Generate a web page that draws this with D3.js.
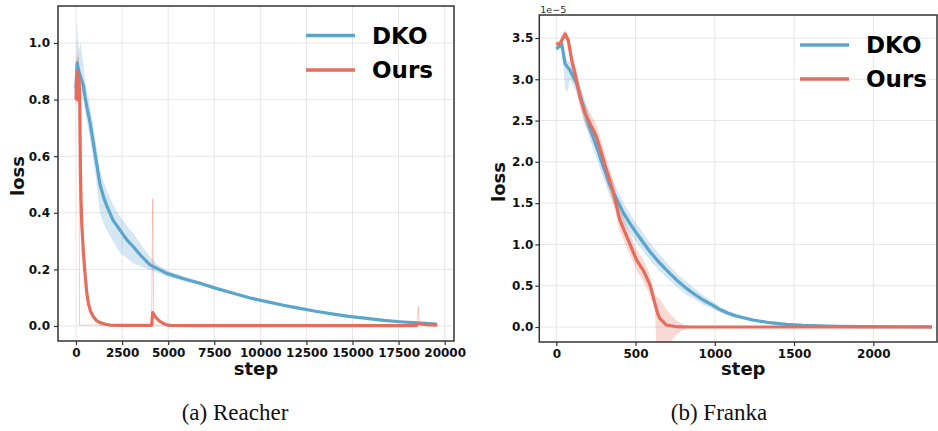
<!DOCTYPE html>
<html>
<head>
<meta charset="utf-8">
<script src="https://cdn.jsdelivr.net/npm/d3@7"></script>
<style>
  body { margin: 0; background: #fff; }
  svg { display: block; }
</style>
</head>
<body>
<svg id="fig" width="938" height="431"></svg>
<script>
var BLUE = "#5ba4cc";
var RED = "#e66c5c";
var GRID_COLOR = "#e6e6e6";
var SPINE_COLOR = "#333";
var TICK_FONT = "bold 12px 'DejaVu Sans'";

var seriesNames = ["DKO", "Ours"];

// ---- (a) Reacher ----
var reacherXTicks = [0, 2500, 5000, 7500, 10000, 12500, 15000, 17500, 20000];
var reacherYTicks = [0, 0.2, 0.4, 0.6, 0.8, 1.0];

var reacherDkoStep = [0, 60, 150, 250, 400, 488, 600, 760, 1030, 1300, 1500, 1665, 2000, 2387, 2750, 3110, 3500, 4014, 4500, 4920, 5800, 6725, 7600, 8533, 9400, 10340, 11200, 12150, 13000, 13960, 14800, 15770, 16700, 17575, 18500, 19565];
var reacherDkoMean = [0.84, 0.93, 0.90, 0.88, 0.85, 0.81, 0.77, 0.72, 0.61, 0.50, 0.455, 0.425, 0.375, 0.339, 0.305, 0.28, 0.25, 0.216, 0.20, 0.186, 0.168, 0.151, 0.133, 0.116, 0.10, 0.086, 0.074, 0.0625, 0.052, 0.042, 0.034, 0.027, 0.020, 0.015, 0.011, 0.007];
var reacherDkoLo = [0.80, 0.85, 0.84, 0.84, 0.80, 0.76, 0.72, 0.66, 0.55, 0.40, 0.36, 0.34, 0.30, 0.258, 0.24, 0.222, 0.21, 0.198, 0.186, 0.176, 0.160, 0.145, 0.128, 0.112, 0.097, 0.083, 0.071, 0.060, 0.050, 0.040, 0.032, 0.025, 0.018, 0.013, 0.009, 0.005];
var reacherDkoHi = [0.90, 1.08, 0.97, 1.00, 0.92, 0.87, 0.83, 0.78, 0.67, 0.55, 0.51, 0.48, 0.43, 0.387, 0.355, 0.328, 0.29, 0.245, 0.214, 0.197, 0.177, 0.157, 0.138, 0.120, 0.104, 0.089, 0.077, 0.065, 0.054, 0.044, 0.036, 0.029, 0.022, 0.017, 0.013, 0.009];

var reacherOursStep = [0, 30, 60, 100, 150, 200, 217, 240, 270, 310, 400, 488, 580, 670, 800, 940, 1100, 1300, 1600, 1844, 2500, 4100, 4160, 4250, 4377, 4550, 4740, 4900, 5100, 6000, 18450, 18570, 18700, 19000, 19600];
var reacherOursMean = [0.80, 0.88, 0.80, 0.90, 0.88, 0.82, 0.70, 0.55, 0.45, 0.364, 0.26, 0.186, 0.12, 0.08, 0.05, 0.033, 0.02, 0.012, 0.006, 0.003, 0.002, 0.002, 0.047, 0.038, 0.027, 0.016, 0.009, 0.005, 0.002, 0.001, 0.001, 0.009, 0.007, 0.005, 0.003];
var reacherOursLo = [0.79, 0.79, 0.78, 0.83, 0.80, 0.78, 0.68, 0.54, 0.44, 0.36, 0.255, 0.182, 0.117, 0.078, 0.049, 0.032, 0.019, 0.011, 0.005, 0.002, 0.001, 0.001, 0.040, 0.034, 0.024, 0.014, 0.007, 0.004, 0.001, 0.0, 0.0, 0.007, 0.005, 0.003, 0.001];
var reacherOursHi = [0.84, 0.97, 0.86, 1.00, 0.95, 0.86, 0.72, 0.56, 0.46, 0.368, 0.265, 0.19, 0.123, 0.082, 0.051, 0.034, 0.021, 0.013, 0.007, 0.004, 0.003, 0.003, 0.054, 0.042, 0.030, 0.018, 0.011, 0.006, 0.003, 0.002, 0.002, 0.011, 0.009, 0.007, 0.005];

// one seed of "Ours" that stands out as thin pink strokes
var reacherSeedStep = [0, 100, 170, 180, 190, 400, 1000, 1300, 4100, 4160, 4220, 18500, 18570, 18640, 19600];
var reacherSeedValue = [0.80, 0.95, 0.90, 0.32, 0.003, 0.003, 0.003, 0.002, 0.002, 0.45, 0.003, 0.002, 0.067, 0.002, 0.002];

// ---- (b) Franka (values x 1e-5) ----
var frankaXTicks = [0, 500, 1000, 1500, 2000];
var frankaYTicks = [0, 0.5, 1.0, 1.5, 2.0, 2.5, 3.0, 3.5];

var frankaDkoStep = [0, 20, 34, 55, 70, 86, 128, 171, 212, 254, 297, 338, 380, 425, 466, 507, 550, 591, 650, 716, 770, 821, 870, 926, 980, 1030, 1080, 1136, 1240, 1346, 1450, 1557, 1660, 1767, 1950, 2150, 2370];
var frankaDkoMean = [3.37, 3.40, 3.43, 3.19, 3.15, 3.11, 2.95, 2.667, 2.405, 2.183, 1.94, 1.72, 1.55, 1.376, 1.25, 1.134, 1.02, 0.912, 0.78, 0.65, 0.55, 0.468, 0.40, 0.327, 0.27, 0.214, 0.17, 0.133, 0.085, 0.052, 0.032, 0.02, 0.013, 0.008, 0.005, 0.003, 0.002];
var frankaDkoLo = [3.34, 3.36, 3.38, 2.90, 2.84, 3.00, 2.84, 2.53, 2.27, 2.05, 1.80, 1.58, 1.42, 1.25, 1.13, 1.02, 0.91, 0.81, 0.68, 0.56, 0.47, 0.39, 0.335, 0.27, 0.225, 0.178, 0.14, 0.108, 0.068, 0.040, 0.024, 0.014, 0.008, 0.005, 0.003, 0.002, 0.001];
var frankaDkoHi = [3.40, 3.44, 3.47, 3.30, 3.22, 3.21, 3.06, 2.80, 2.54, 2.32, 2.08, 1.86, 1.68, 1.50, 1.37, 1.25, 1.13, 1.02, 0.88, 0.74, 0.63, 0.55, 0.47, 0.385, 0.315, 0.25, 0.20, 0.158, 0.102, 0.064, 0.040, 0.026, 0.018, 0.011, 0.007, 0.004, 0.003];

var frankaOursStep = [0, 23, 55, 76, 97, 118, 149, 181, 212, 244, 254, 286, 317, 349, 370, 400, 463, 507, 548, 591, 622, 640, 653, 695, 758, 800, 850, 1000, 1500, 2000, 2370];
var frankaOursMean = [3.43, 3.43, 3.55, 3.47, 3.23, 3.07, 2.79, 2.587, 2.466, 2.345, 2.30, 2.10, 1.90, 1.70, 1.55, 1.30, 1.01, 0.81, 0.69, 0.51, 0.287, 0.16, 0.105, 0.024, 0.003, 0.001, 0.0, 0.0, 0.0, 0.0, 0.0];
var frankaOursLo = [3.41, 3.40, 3.50, 3.40, 3.12, 2.95, 2.66, 2.45, 2.33, 2.21, 2.16, 1.96, 1.76, 1.56, 1.41, 1.16, 0.88, 0.68, 0.56, 0.38, 0.20, -0.60, -0.60, -0.24, -0.09, -0.03, 0.0, 0.0, 0.0, 0.0, 0.0];
var frankaOursHi = [3.45, 3.46, 3.60, 3.54, 3.34, 3.19, 2.92, 2.72, 2.60, 2.48, 2.44, 2.24, 2.04, 1.84, 1.69, 1.44, 1.14, 0.94, 0.82, 0.64, 0.40, 0.35, 0.34, 0.21, 0.08, 0.03, 0.005, 0.0, 0.0, 0.0, 0.0];

function zipRows(step, mean, lo, hi) {
    return step.map(function (s, i) {
        return { step: s, mean: mean[i], lo: lo ? lo[i] : null, hi: hi ? hi[i] : null };
    });
}

//draw one subplot
function drawPanel(p) {
    var svg = d3.select("#fig");
    var g = svg.append("g").attr("class", p.id);

    var x = d3.scaleLinear().domain(p.xAnchor).range(p.xPix);
    var y = d3.scaleLinear().domain(p.yAnchor).range(p.yPix);

    //clip to the axes box
    svg.append("clipPath")
        .attr("id", p.id + "-clip")
        .append("rect")
        .attr("x", p.box.left)
        .attr("y", p.box.top)
        .attr("width", p.box.right - p.box.left)
        .attr("height", p.box.bottom - p.box.top);

    //grid
    var grid = g.append("g").attr("class", "grid");
    grid.selectAll("line.gx")
        .data(p.xTicks)
        .join("line")
        .attr("class", "gx")
        .attr("x1", function (d) { return x(d); })
        .attr("x2", function (d) { return x(d); })
        .attr("y1", p.box.top)
        .attr("y2", p.box.bottom)
        .style("stroke", GRID_COLOR)
        .style("stroke-width", 1);
    grid.selectAll("line.gy")
        .data(p.yTicks)
        .join("line")
        .attr("class", "gy")
        .attr("x1", p.box.left)
        .attr("x2", p.box.right)
        .attr("y1", function (d) { return y(d); })
        .attr("y2", function (d) { return y(d); })
        .style("stroke", GRID_COLOR)
        .style("stroke-width", 1);

    var plot = g.append("g").attr("clip-path", "url(#" + p.id + "-clip)");
    var area = d3.area()
        .x(function (d) { return x(d.step); })
        .y0(function (d) { return y(d.lo); })
        .y1(function (d) { return y(d.hi); });
    var line = d3.line()
        .x(function (d) { return x(d.step); })
        .y(function (d) { return y(d.mean); });

    p.series.forEach(function (s) {
        plot.append("path")
            .attr("d", area(s.rows))
            .style("fill", s.color)
            .style("fill-opacity", 0.26)
            .style("stroke", "none");
    });
    p.series.forEach(function (s) {
        if (s.seed) {
            plot.append("path")
                .attr("d", line(s.seed))
                .style("fill", "none")
                .style("stroke", s.color)
                .style("stroke-opacity", 0.35)
                .style("stroke-width", 1);
        }
    });
    p.series.forEach(function (s) {
        plot.append("path")
            .attr("d", line(s.rows))
            .style("fill", "none")
            .style("stroke", s.color)
            .style("stroke-width", 3.2)
            .style("stroke-linejoin", "round");
    });

    //axes
    var xAxis = g.append("g")
        .attr("transform", "translate(0," + p.box.bottom + ")")
        .call(d3.axisBottom(x).tickValues(p.xTicks).tickFormat(d3.format("d"))
            .tickSize(4).tickPadding(3));
    var yAxis = g.append("g")
        .attr("transform", "translate(" + p.box.left + ",0)")
        .call(d3.axisLeft(y).tickValues(p.yTicks).tickFormat(d3.format(".1f"))
            .tickSize(4).tickPadding(p.yPad));
    [xAxis, yAxis].forEach(function (a) {
        a.select(".domain").remove();
        a.selectAll(".tick line").style("stroke", SPINE_COLOR).style("stroke-width", 1.2);
        a.selectAll(".tick text").style("font", TICK_FONT).style("fill", "#111");
    });

    //box
    g.append("rect")
        .attr("x", p.box.left)
        .attr("y", p.box.top)
        .attr("width", p.box.right - p.box.left)
        .attr("height", p.box.bottom - p.box.top)
        .style("fill", "none")
        .style("stroke", SPINE_COLOR)
        .style("stroke-width", 1.5);

    //axis labels
    g.append("text")
        .attr("x", p.xLabel[0])
        .attr("y", p.xLabel[1])
        .style("text-anchor", "middle")
        .style("font", "bold 18px 'DejaVu Sans'")
        .style("fill", "#111")
        .text("step");
    g.append("text")
        .attr("transform", "translate(" + p.yLabel[0] + "," + p.yLabel[1] + ") rotate(-90)")
        .attr("dy", "0.35em")
        .style("text-anchor", "middle")
        .style("font", "bold 18px 'DejaVu Sans'")
        .style("fill", "#111")
        .text("loss");

    if (p.offset) {
        g.append("text")
            .attr("x", p.box.left + 1)
            .attr("y", p.box.top - 2.5)
            .style("font", "9.5px 'DejaVu Sans'")
            .style("fill", "#333")
            .text(p.offset);
    }

    //legend
    var leg = g.append("g").attr("class", "legend");
    p.series.forEach(function (s, i) {
        var ly = p.legend.y + i * p.legend.gap;
        leg.append("line")
            .attr("x1", p.legend.x)
            .attr("x2", p.legend.x + 49)
            .attr("y1", ly)
            .attr("y2", ly)
            .style("stroke", s.color)
            .style("stroke-width", 3.5);
        leg.append("text")
            .attr("x", p.legend.x + 66)
            .attr("y", ly)
            .attr("dy", "0.36em")
            .style("font", "bold 23px 'DejaVu Sans'")
            .style("fill", "#000")
            .text(s.name);
    });

    //caption
    svg.append("text")
        .attr("x", p.caption[0])
        .attr("y", p.caption[1])
        .style("text-anchor", "middle")
        .style("font", "23px 'Liberation Serif'")
        .style("fill", "#111")
        .text(p.captionText);
}

drawPanel({
    id: "reacher",
    xAnchor: [0, 20000], xPix: [76, 444.7],
    yAnchor: [0, 1], yPix: [326, 43],
    box: { left: 58, right: 454, top: 6, bottom: 341 },
    xTicks: reacherXTicks, yTicks: reacherYTicks, yPad: 4,
    series: [
        { name: seriesNames[0], color: BLUE, rows: zipRows(reacherDkoStep, reacherDkoMean, reacherDkoLo, reacherDkoHi) },
        { name: seriesNames[1], color: RED, rows: zipRows(reacherOursStep, reacherOursMean, reacherOursLo, reacherOursHi),
          seed: zipRows(reacherSeedStep, reacherSeedValue) }
    ],
    legend: { x: 306, y: 35.5, gap: 34.5 },
    xLabel: [256, 375], yLabel: [17.5, 176],
    caption: [235, 420], captionText: "(a) Reacher"
});

drawPanel({
    id: "franka",
    xAnchor: [0, 2000], xPix: [556.3, 873.3],
    yAnchor: [0, 3.5], yPix: [327, 38],
    box: { left: 539.3, right: 937, top: 15, bottom: 342 },
    xTicks: frankaXTicks, yTicks: frankaYTicks, yPad: 2,
    series: [
        { name: seriesNames[0], color: BLUE, rows: zipRows(frankaDkoStep, frankaDkoMean, frankaDkoLo, frankaDkoHi) },
        { name: seriesNames[1], color: RED, rows: zipRows(frankaOursStep, frankaOursMean, frankaOursLo, frankaOursHi) }
    ],
    legend: { x: 800, y: 45, gap: 34 },
    xLabel: [743.3, 375], yLabel: [498.5, 182],
    offset: "1e\u22125",
    caption: [719, 420], captionText: "(b) Franka"
});
</script>
</body>
</html>
